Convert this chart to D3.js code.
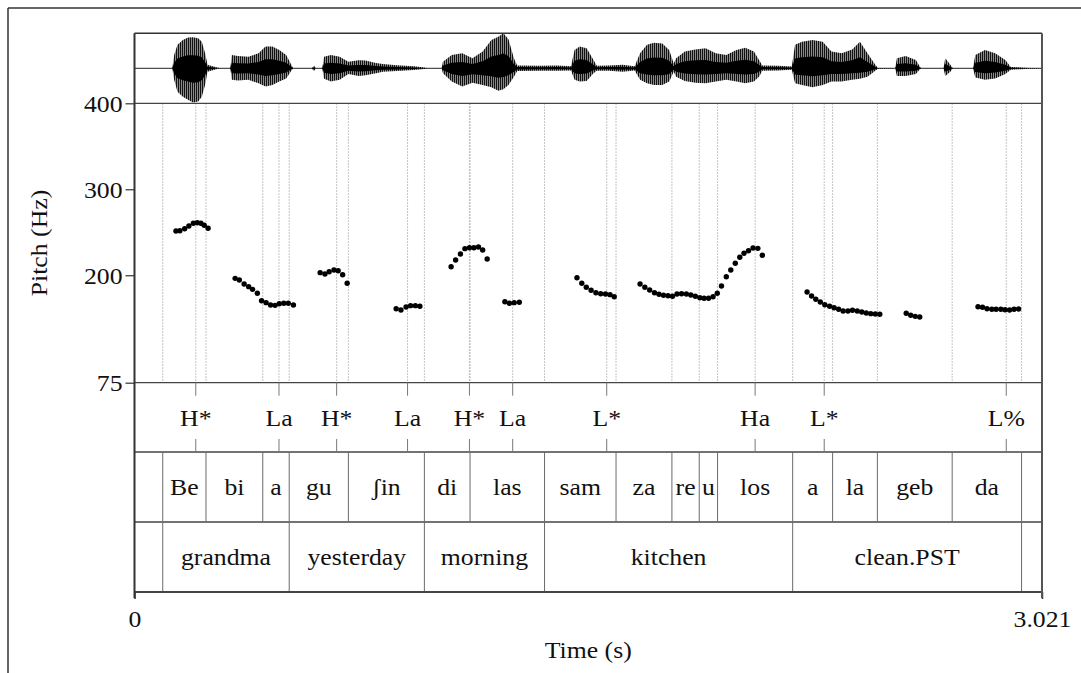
<!DOCTYPE html>
<html><head><meta charset="utf-8">
<script src="https://cdn.jsdelivr.net/npm/d3@7/dist/d3.min.js"></script>
<style>
html,body{margin:0;padding:0;background:#fff;}
svg text{font-family:"Liberation Serif","Times New Roman",serif;fill:#111;}
</style></head>
<body><svg id="chart" width="1081" height="673"></svg>
<script>
// ---------- DATA ----------
const duration = 3.021;
const pitchTicks = [75, 200, 300, 400];
const timeTicks = [0, 3.021];
const timeTickLabels = ["0", "3.021"];

const pitchT = [
 0.138,0.151,0.167,0.181,0.196,0.209,0.221,0.232,0.245,
 0.335,0.349,0.365,0.380,0.393,0.409,0.423,0.438,0.453,0.468,0.482,0.497,0.512,0.529,
 0.618,0.634,0.648,0.664,0.678,0.693,0.708,
 0.871,0.887,0.904,0.919,0.935,0.950,
 1.054,1.069,1.085,1.100,1.115,1.130,1.145,1.159,1.174,
 1.233,1.248,1.264,1.281,
 1.473,1.489,1.504,1.520,1.536,1.552,1.568,1.583,1.597,
 1.683,1.699,1.715,1.731,1.746,1.761,1.776,1.791,1.806,1.821,1.837,1.852,1.867,1.882,1.896,1.911,1.926,1.940,1.954,1.970,1.985,2.000,2.015,2.029,2.044,2.059,2.075,2.090,
 2.239,2.254,2.268,2.283,2.298,2.314,2.329,2.344,2.359,2.375,2.390,2.406,2.421,2.436,2.451,2.466,2.481,
 2.569,2.584,2.599,2.614,
 2.808,2.823,2.838,2.854,2.868,2.884,2.898,2.913,2.928,2.943
];
const pitchHz = [
 251.5,251.8,254.1,257.3,260.4,261.1,260.4,258.1,254.6,
 196.4,194.5,189.8,186.7,183.6,179.0,170.4,168.1,165.4,165.0,166.9,167.4,167.4,165.4,
 203.0,201.4,204.1,206.1,205.3,200.6,190.6,
 161.1,159.6,163.1,164.6,164.6,163.9,
 209.9,217.7,224.7,230.9,232.0,232.0,232.8,229.4,218.9,
 169.2,167.4,168.1,168.5,
 197.1,190.6,186.0,182.5,179.7,178.5,178.2,177.4,175.0,
 189.8,186.0,182.8,179.7,177.8,176.7,176.2,175.5,178.2,178.5,178.2,177.0,175.5,173.9,173.2,173.2,175.0,179.0,187.5,198.3,206.1,213.9,220.9,225.5,228.5,231.7,231.3,223.2,
 180.5,175.9,172.0,168.9,165.7,163.9,162.2,160.4,158.4,158.4,159.2,158.4,157.2,156.1,155.3,154.9,154.6,
 155.7,153.4,152.2,151.4,
 163.4,162.7,161.1,160.4,160.4,160.4,159.9,159.6,160.4,160.7
];

// waveform envelope (relative amplitude, 1 = half box height)
const waveT = [0,0.126,0.132,0.143,0.161,0.178,0.195,0.212,0.224,0.235,0.243,0.275,0.287,
 0.319,0.324,0.344,0.379,0.413,0.436,0.459,0.482,0.505,0.522,0.528,
 0.591,0.595,0.599,0.604,
 0.625,0.631,0.654,0.683,0.712,0.746,0.769,0.804,0.827,0.873,0.930,0.964,0.976,
 1.022,1.027,1.056,1.091,1.125,1.159,1.188,1.211,1.228,1.245,1.263,1.274,
 1.350,1.407,1.453,1.465,1.482,1.505,1.528,1.539,1.579,1.625,1.665,
 1.683,1.706,1.729,1.757,1.780,1.795,1.803,1.832,1.867,1.901,1.935,1.970,2.004,2.033,2.062,2.079,
 2.090,2.142,2.188,2.199,2.222,2.257,2.291,2.320,2.354,2.389,2.415,2.440,2.466,2.475,
 2.532,2.538,2.567,2.601,2.618,
 2.693,2.699,2.716,2.724,
 2.791,2.799,2.831,2.865,2.899,2.917,2.980,3.021];
const waveTop = [0,0,0.38,0.67,0.81,0.88,0.89,0.86,0.76,0.43,0.10,0.02,0,
 0,0.38,0.35,0.33,0.43,0.62,0.62,0.52,0.38,0.10,0,
 0,0.06,0.06,0,
 0,0.33,0.38,0.33,0.19,0.23,0.22,0.15,0.12,0.09,0.06,0.02,0,
 0,0.19,0.38,0.43,0.29,0.48,0.81,0.90,1.0,0.83,0.29,0.08,
 0.07,0.08,0.06,0.52,0.62,0.57,0.24,0.07,0.08,0.10,0.06,
 0.43,0.67,0.73,0.71,0.52,0.14,0.29,0.48,0.54,0.57,0.43,0.38,0.52,0.59,0.48,0.24,
 0.08,0.07,0.05,0.67,0.76,0.81,0.76,0.48,0.43,0.54,0.76,0.43,0.10,0.01,
 0,0.29,0.35,0.24,0,
 0,0.29,0.10,0,
 0,0.38,0.52,0.43,0.24,0.04,0.01,0];
const waveBot = [0,0,0.33,0.67,0.81,0.90,0.98,0.95,0.81,0.48,0.10,0.02,0,
 0,0.33,0.35,0.33,0.43,0.52,0.48,0.38,0.29,0.07,0,
 0,0.06,0.06,0,
 0,0.30,0.38,0.33,0.16,0.22,0.20,0.14,0.10,0.08,0.05,0.02,0,
 0,0.14,0.38,0.52,0.41,0.48,0.54,0.64,0.60,0.48,0.24,0.08,
 0.07,0.07,0.06,0.33,0.38,0.36,0.14,0.07,0.07,0.10,0.06,
 0.33,0.43,0.48,0.48,0.38,0.10,0.24,0.36,0.41,0.43,0.38,0.33,0.38,0.43,0.38,0.24,
 0.07,0.06,0.04,0.43,0.48,0.54,0.48,0.38,0.38,0.33,0.30,0.24,0.07,0.01,
 0,0.22,0.22,0.16,0,
 0,0.22,0.10,0,
 0,0.26,0.33,0.29,0.16,0.04,0.01,0];

const toneT = [0.204,0.481,0.673,0.909,1.115,1.259,1.572,2.066,2.296,2.902];
const toneLabels = ["H*","La","H*","La","H*","La","L*","Ha","L*","L%"];

const syllableBounds = [0.094,0.238,0.427,0.515,0.712,0.965,1.117,1.365,1.603,1.789,1.880,1.941,2.191,2.324,2.473,2.722,2.953];
const syllableLabels = ["Be","bi","a","gu","\u0283in","di","las","sam","za","re","u","los","a","la","geb","da"];

const wordBounds = [0.094,0.515,0.965,1.365,2.191,2.953];
const wordLabels = ["grandma","yesterday","morning","kitchen","clean.PST"];

// ---------- LAYOUT ----------
const svg = d3.select("#chart");
const L = 134.5, R = 1042;
const waveTop0 = 33.3, pitchTop = 103.3, pitchBot = 382.7;
const tier1 = 382.7, tier2 = 452, tier3 = 522, tierEnd = 592;
const FS = 23, SX = 1.12;

const x = d3.scaleLinear().domain([0, duration]).range([L, R]);
const y = d3.scaleLinear().domain([75, 400]).range([pitchBot, pitchTop]);
const wy = d3.scaleLinear().domain([-1, 1]).range([pitchTop, waveTop0]);

function stretchText(sel, px, py, anchor) {
  sel.attr("transform", `translate(${px},${py}) scale(${SX},1)`)
     .attr("text-anchor", anchor || "middle")
     .style("font-size", FS + "px");
  return sel;
}

// outer frame
svg.append("line").attr("x1",8).attr("x2",1081).attr("y1",8).attr("y2",8).attr("stroke","#333").attr("stroke-width",1.5);
svg.append("line").attr("x1",8).attr("x2",8).attr("y1",8).attr("y2",673).attr("stroke","#333").attr("stroke-width",1.5);

// pattern for waveform strokes
const defs = svg.append("defs");
const pat = defs.append("pattern").attr("id","vl").attr("width",2).attr("height",4).attr("patternUnits","userSpaceOnUse");
pat.append("rect").attr("width",2).attr("height",4).attr("fill","#8a8a8a");
pat.append("rect").attr("width",1).attr("height",4).attr("fill","#111");

// waveform
const idx = d3.range(waveT.length);
svg.append("line").attr("x1",L).attr("x2",R).attr("y1",wy(0)).attr("y2",wy(0)).attr("stroke","#222").attr("stroke-width",1);
svg.append("path").datum(idx)
  .attr("d", d3.area().x(i => x(waveT[i])).y0(i => wy(-waveBot[i])).y1(i => wy(waveTop[i])))
  .attr("fill","url(#vl)");
svg.append("path").datum(idx)
  .attr("d", d3.area().x(i => x(waveT[i])).y0(i => wy(-waveBot[i]*0.42)).y1(i => wy(waveTop[i]*0.42)))
  .attr("fill","#000");
svg.append("line").attr("x1",L).attr("x2",R).attr("y1",waveTop0).attr("y2",waveTop0).attr("stroke","#333").attr("stroke-width",1.5);

// dotted guide lines through pitch area
const guides = Array.from(new Set([...syllableBounds, ...wordBounds, ...toneT]));
svg.append("g").selectAll("line").data(guides).join("line")
  .attr("x1", d => x(d)).attr("x2", d => x(d))
  .attr("y1", pitchTop).attr("y2", pitchBot)
  .attr("stroke","#b0b0b0").attr("stroke-width",1).attr("stroke-dasharray","1.5,1.5");

// pitch points
svg.append("g").selectAll("circle").data(d3.range(pitchT.length)).join("circle")
  .attr("cx", i => x(pitchT[i])).attr("cy", i => y(pitchHz[i])).attr("r", 2.7).attr("fill","#000");

// y axis
const ya = svg.append("g").attr("transform",`translate(${L},0)`)
  .call(d3.axisLeft(y).tickValues(pitchTicks).tickSize(9).tickPadding(3).tickFormat(d3.format("d")));
ya.select(".domain").remove();
ya.selectAll(".tick line").attr("stroke","#333").attr("stroke-width",1.2);
ya.selectAll(".tick text").each(function(){
  const t = d3.select(this);
  const tx = +t.attr("x");
  t.attr("x", null).attr("dy","0.35em").attr("fill","#111");
  stretchText(t, tx, 0, "end");
});

// horizontal lines (400 line, tier lines)
[pitchTop, tier1, tier2, tier3].forEach(v => {
  svg.append("line").attr("x1",L).attr("x2",R).attr("y1",v).attr("y2",v).attr("stroke","#444").attr("stroke-width",1.3);
});

// tone tier ticks and labels
const tg = svg.append("g");
tg.selectAll("line.top").data(toneT).join("line").attr("class","top")
  .attr("x1",d=>x(d)).attr("x2",d=>x(d)).attr("y1",tier1).attr("y2",tier1+13).attr("stroke","#777");
tg.selectAll("line.bot").data(toneT).join("line").attr("class","bot")
  .attr("x1",d=>x(d)).attr("x2",d=>x(d)).attr("y1",tier2-13).attr("y2",tier2).attr("stroke","#777");
tg.selectAll("text").data(toneT).join("text").text((d,i)=>toneLabels[i])
  .each(function(d){ stretchText(d3.select(this), x(d), tier1+43); });

// syllable tier
const sg = svg.append("g");
sg.selectAll("line").data(syllableBounds).join("line")
  .attr("x1",d=>x(d)).attr("x2",d=>x(d)).attr("y1",tier2).attr("y2",tier3).attr("stroke","#6a6a6a");
sg.selectAll("text").data(syllableLabels).join("text").text(d=>d)
  .each(function(d,i){ stretchText(d3.select(this), (x(syllableBounds[i])+x(syllableBounds[i+1]))/2, tier2+43); });

// word tier
const wg = svg.append("g");
wg.selectAll("line").data(wordBounds).join("line")
  .attr("x1",d=>x(d)).attr("x2",d=>x(d)).attr("y1",tier3).attr("y2",tierEnd).attr("stroke","#6a6a6a");
wg.selectAll("text").data(wordLabels).join("text").text(d=>d)
  .each(function(d,i){ stretchText(d3.select(this), (x(wordBounds[i])+x(wordBounds[i+1]))/2, tier3+43); });

// x axis
const xa = svg.append("g").attr("transform",`translate(0,${tierEnd})`)
  .call(d3.axisBottom(x).tickValues(timeTicks).tickSize(7).tickPadding(6).tickFormat((d,i)=>timeTickLabels[i]));
xa.select(".domain").remove();
xa.selectAll(".tick line").attr("stroke","#333").attr("stroke-width",1.5);
xa.selectAll(".tick text").each(function(){
  const t = d3.select(this);
  t.attr("y", null).attr("dy", null).attr("fill","#111");
  stretchText(t, 0, 35, "middle");
});
svg.append("line").attr("x1",L).attr("x2",R).attr("y1",tierEnd).attr("y2",tierEnd).attr("stroke","#444").attr("stroke-width",2.2);

// left and right frame of plot
svg.append("line").attr("x1",L).attr("x2",L).attr("y1",waveTop0).attr("y2",tierEnd+6).attr("stroke","#333").attr("stroke-width",2);
svg.append("line").attr("x1",R).attr("x2",R).attr("y1",waveTop0).attr("y2",tierEnd+6).attr("stroke","#555").attr("stroke-width",2);

// axis titles
stretchText(svg.append("text").text("Time (s)"), (L+R)/2, 658);
svg.append("text").text("Pitch (Hz)")
  .attr("transform", `translate(47,${(pitchTop+pitchBot)/2}) rotate(-90) scale(${SX},1)`)
  .attr("text-anchor","middle").style("font-size", FS+"px");
</script></body></html>
